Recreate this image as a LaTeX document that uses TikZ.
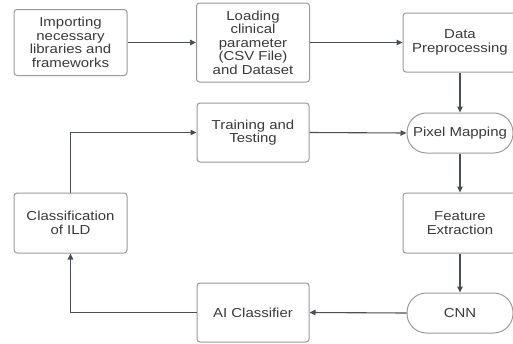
\documentclass[tikz,border=0pt]{standalone}
\usepackage{fontspec}
\setmainfont{Liberation Sans}[FakeStretch=1.15]
\usepackage{tikz}
\usetikzlibrary{arrows.meta,positioning,calc}
\definecolor{fgray}{HTML}{3A3A3A}
\definecolor{bgray}{HTML}{9A9A9A}
\definecolor{agray}{HTML}{4A4E55}
\tikzset{
  box/.style={draw=bgray,fill=white,rounded corners=3pt,line width=1pt,align=center,text=fgray,font=\fontsize{13}{13.5}\selectfont,inner sep=2pt},
  pill/.style={box,rounded corners=19.5pt,minimum width=106pt,minimum height=40pt},
  arr/.style={-{Triangle[length=6pt,width=5.5pt]},line width=1.1pt,draw=agray},
}
\begin{document}
\begin{tikzpicture}[x=1pt,y=-1pt]
  \clip (0,0) rectangle (513,343);
  \foreach \n/\x/\y/\w/\h/\t in {
    imp/70.5/42.5/113/66/{Importing\\necessary\\libraries and\\frameworks},
    load/253/42.5/113/79/{Loading\\clinical\\parameter\\(CSV File)\\and Dataset},
    data/460/42.5/114/59/{Data\\Preprocessing},
    train/253/132.5/112/59/{Training and\\Testing},
    feat/460/223/114/60/{Feature\\Extraction},
    ai/253/312.5/112/59/{AI Classifier},
    cls/70.5/223/113/60/{Classification\\of ILD}} {
    \node[box,minimum width=\w pt,minimum height=\h pt] (\n) at (\x,\y) {\t};
  }
  \node[pill] (pix) at (460,133) {Pixel Mapping};
  \node[pill] (cnn) at (460,313) {CNN};
  \foreach \a/\b in {imp/load,load/data,train/pix} \draw[arr] (\a.east) -- (\b.west);
  \foreach \a/\b in {data/pix,pix/feat,feat/cnn} \draw[arr] (\a.south) -- (\b.north);
  \draw[arr] (cnn.west) -- (ai.east);
  \draw[arr] (ai.west) -| (cls.south);
  \draw[arr] (cls.north) |- (train.west);
\end{tikzpicture}
\end{document}
